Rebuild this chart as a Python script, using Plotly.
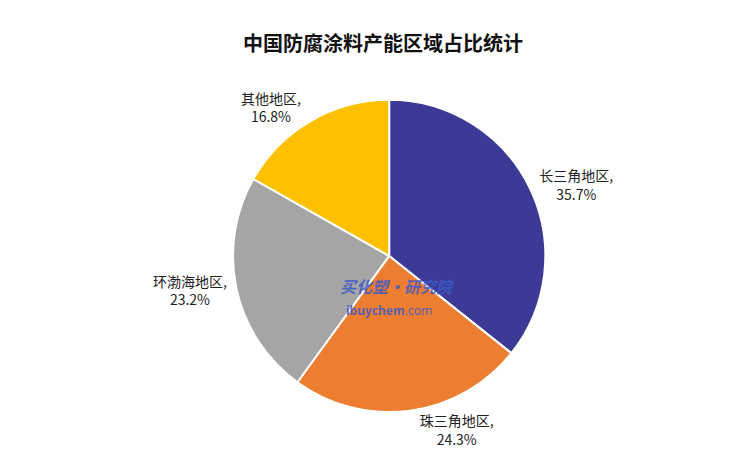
import plotly.graph_objects as go

regions = ["长三角地区", "珠三角地区", "环渤海地区", "其他地区"]
shares = [35.7, 24.3, 23.2, 16.8]
colors = ["#3C3A96", "#ED7D31", "#A5A5A5", "#FFC000"]

fig = go.Figure(go.Pie(
    labels=regions, values=shares, sort=False, direction="clockwise", rotation=0,
    marker=dict(colors=colors, line=dict(color="white", width=2)),
    texttemplate="%{label},<br>%{value:.1f}%", textposition="outside",
    textfont=dict(size=14, color="#222", family="Noto Sans CJK SC"),
    domain=dict(x=[0.05, 0.86], y=[0.102, 0.796]), showlegend=False, hoverinfo="skip",
))
fig.update_layout(
    width=750, height=450, margin=dict(l=0, r=0, t=0, b=0), paper_bgcolor="white",
    title=dict(text="<b>中国防腐涂料产能区域占比统计</b>", x=0.5, y=0.935, xanchor="center",
               font=dict(size=20, color="#111", family="Noto Sans CJK SC")),
    annotations=[
        dict(text="<b><i>买化塑·研究院</i></b>", x=0.47, y=0.382, xref="paper", yref="paper",
             showarrow=False, font=dict(size=16, color="rgba(60,90,200,0.85)", family="Noto Sans CJK SC")),
        dict(text="<b>ibuychem</b>.com", x=0.455, y=0.305, xref="paper", yref="paper",
             showarrow=False, font=dict(size=12, color="rgba(60,90,200,0.85)", family="Noto Sans")),
    ],
)
fig.write_html("out.html")
